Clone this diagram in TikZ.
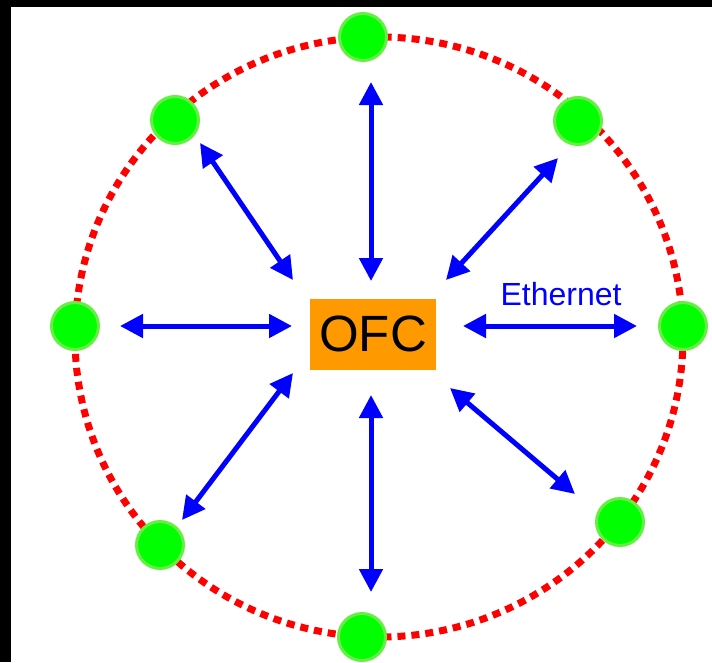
\documentclass[tikz,border=0pt]{standalone}
\usepackage{fontspec}
\setmainfont{Liberation Sans}
\usetikzlibrary{arrows.meta}
\definecolor{ofcorange}{HTML}{FF9900}
\definecolor{nodegreen}{HTML}{00FF00}
\definecolor{ringgreen}{HTML}{66EE44}
\definecolor{linkblue}{HTML}{0000FF}
\begin{document}
\begin{tikzpicture}[x=1pt,y=-1pt,
  peer/.style={circle,fill=nodegreen,draw=ringgreen,line width=3pt,minimum size=47pt,inner sep=0pt},
  link/.style={linkblue,line width=5pt,{Triangle[length=23pt,width=23pt]}-{Triangle[length=23pt,width=23pt]}},
  ring/.style={red,line width=7pt,dash pattern=on 8pt off 6pt}]
\useasboundingbox (0,0) rectangle (712,662);
\fill[black] (0,0) rectangle (712,662);
\fill[white] (11,7) rectangle (712,662);
% dashed ring
\draw[ring] (379,337) ellipse [x radius=304, y radius=300];
% center
\node[fill=ofcorange,minimum width=126pt,minimum height=71pt,inner sep=0pt,font=\fontsize{51}{51}\selectfont] (ofc) at (373,334) {OFC};
% peers
\node[peer] (n1) at (363,37) {};
\node[peer] (n2) at (578,121) {};
\node[peer] (n3) at (683,326) {};
\node[peer] (n4) at (620,522) {};
\node[peer] (n5) at (362,637) {};
\node[peer] (n6) at (160,545) {};
\node[peer] (n7) at (75,326) {};
\node[peer] (n8) at (175,120) {};
% arrow end points
\coordinate (a1) at (371,82);  \coordinate (b1) at (371,281);
\coordinate (a2) at (558,158); \coordinate (b2) at (446,280);
\coordinate (a3) at (637,326); \coordinate (b3) at (463,326);
\coordinate (a4) at (575,494); \coordinate (b4) at (450,388);
\coordinate (a5) at (371,592); \coordinate (b5) at (371,395);
\coordinate (a6) at (182,520); \coordinate (b6) at (293,373);
\coordinate (a7) at (120,326); \coordinate (b7) at (292,326);
\coordinate (a8) at (200,143); \coordinate (b8) at (293,280);
\foreach \i in {1,...,8} {\draw[link] (a\i) -- (b\i);}
\node[text=linkblue,font=\fontsize{32}{32}\selectfont] (eth) at (561,294) {Ethernet};
\end{tikzpicture}
\end{document}
